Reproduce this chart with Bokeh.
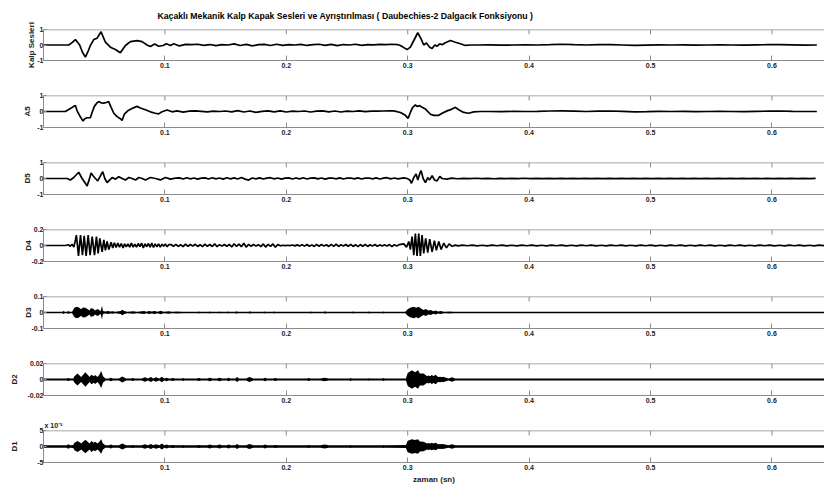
import numpy as np
from bokeh.plotting import figure
from bokeh.layouts import column
from bokeh.models import FixedTicker, Range1d, Span
from bokeh.embed import file_html
from bokeh.resources import INLINE

# ---------------- text ----------------
TITLE = "Kaçaklı Mekanik Kalp Kapak Sesleri ve Ayrıştırılması ( Daubechies-2 Dalgacık Fonksiyonu )"
XLABEL = "zaman (sn)"
SCALE_NOTE = "x 10⁻³"
YLABELS = ["Kalp Sesleri", "A5", "D5", "D4", "D3", "D2", "D1"]
XTICKS = [0.1, 0.2, 0.3, 0.4, 0.5, 0.6]
XTICK_LABELS = ["0.1", "0.2", "0.3", "0.4", "0.5", "0.6"]
YLIMS = [1.0, 1.0, 1.0, 0.2, 0.1, 0.02, 0.005]
YTICK_LABELS = [["-1", "0", "1"], ["-1", "0", "1"], ["-1", "0", "1"],
                ["-0.2", "0", "0.2"], ["-0.1", "0", "0.1"],
                ["-0.02", "0", "0.02"], ["-5", "0", "5"]]
X_END = 0.6433

# ---------------- data: original heart sound ----------------
sig_s1_t = [0.0, 0.010, 0.0208, 0.0235, 0.0263, 0.0298, 0.032, 0.0345, 0.0365, 0.0386, 0.0414,
            0.0441, 0.0474, 0.051, 0.0551, 0.0592, 0.0633, 0.0675, 0.0716, 0.0771, 0.0812,
            0.0853, 0.088, 0.0916, 0.0949, 0.0985, 0.1012, 0.1045, 0.1073]
sig_s1_v = [0.0, 0.0, 0.0, 0.15, 0.35, 0.0, -0.45, -0.78, -0.45, -0.03, 0.35,
            0.44, 0.85, 0.18, -0.14, -0.29, -0.5, -0.03, 0.22, 0.28, 0.22,
            0.0, -0.1, 0.06, -0.08, -0.03, 0.08, -0.03, 0.08]
sig_mid_t = np.linspace(0.112, 0.287, 36)
sig_mid_v = [-0.06, 0.04, 0.02, 0.05, -0.02, 0.03, -0.04, 0.02, 0.0, 0.07, -0.03, 0.04,
             -0.06, 0.02, 0.04, -0.03, 0.05, -0.02, 0.03, 0.0, 0.04, -0.03, 0.02, 0.05,
             -0.02, 0.04, -0.04, 0.03, 0.0, 0.05, -0.02, 0.03, 0.01, 0.04, 0.02, 0.05]
sig_s2_t = [0.2915, 0.294, 0.2995, 0.3022, 0.305, 0.3083, 0.311, 0.3132, 0.3154, 0.3181, 0.3201,
            0.3223, 0.3242, 0.3264, 0.3283, 0.331, 0.3352, 0.3393, 0.3434, 0.3475, 0.3517]
sig_s2_v = [0.03, -0.03, -0.3, -0.14, 0.29, 0.79, 0.4, 0.0, 0.13, -0.14, -0.23,
            0.0, -0.08, 0.08, 0.02, 0.15, 0.29, 0.18, 0.08, -0.03, 0.0]
sig_tail_t = np.linspace(0.357, 0.637, 29)
sig_tail_v = [0.0, 0.01, -0.01, 0.0, 0.01, 0.0, 0.02, 0.05, 0.02, 0.0, 0.02, 0.03, 0.0, -0.03,
              -0.01, 0.01, 0.0, 0.01, -0.01, 0.0, 0.01, 0.0, -0.01, 0.01, 0.02, 0.03, 0.01, -0.01, 0.0]

# ---------------- data: A5 ----------------
a5_s1_t = [0.0, 0.010, 0.018, 0.0222, 0.0249, 0.0263, 0.0277, 0.0299, 0.0326, 0.034, 0.0359,
           0.0386, 0.04, 0.0419, 0.0441, 0.0455, 0.0474, 0.0496, 0.0524, 0.0537, 0.0557,
           0.0579, 0.0606, 0.0633, 0.0647, 0.0666, 0.0694, 0.0729, 0.077, 0.0798, 0.0839,
           0.088, 0.0921, 0.0949, 0.0976, 0.1018, 0.1059, 0.11]
a5_s1_v = [0.0, 0.0, 0.0, 0.19, 0.32, 0.37, 0.04, -0.28, -0.6, -0.45, -0.39,
           -0.39, -0.06, 0.32, 0.54, 0.62, 0.54, 0.52, 0.58, 0.62, 0.26,
           -0.11, -0.32, -0.45, -0.56, -0.17, 0.04, 0.19, 0.32, 0.22, 0.11,
           -0.02, -0.11, -0.15, -0.02, 0.09, -0.02, 0.04]
a5_mid_t = np.linspace(0.115, 0.285, 35)
a5_mid_v = [-0.04, 0.02, 0.04, 0.01, -0.02, 0.02, 0.0, 0.03, -0.02, 0.05, -0.03, 0.03,
            -0.05, 0.01, 0.04, -0.02, 0.04, -0.03, 0.02, 0.0, 0.03, -0.03, 0.02, 0.04,
            -0.02, 0.03, -0.03, 0.02, 0.0, 0.04, -0.01, 0.02, 0.02, 0.03, 0.04]
a5_s2_t = [0.2885, 0.294, 0.2981, 0.3003, 0.3022, 0.3041, 0.3063, 0.3077, 0.3099, 0.3118,
           0.3146, 0.3187, 0.3214, 0.3256, 0.3283, 0.3324, 0.3365, 0.3393, 0.342, 0.3461,
           0.3502, 0.3544, 0.3599]
a5_s2_v = [0.04, -0.06, -0.24, -0.43, -0.06, 0.26, 0.41, 0.32, 0.37, 0.26,
           0.15, -0.17, -0.24, -0.24, -0.11, 0.04, 0.15, 0.26, 0.11, -0.06,
           -0.11, -0.02, 0.0]
a5_tail_t = np.linspace(0.367, 0.637, 28)
a5_tail_v = [0.0, -0.01, 0.01, 0.0, 0.01, 0.03, 0.04, 0.02, 0.0, 0.02, 0.03, 0.01, -0.02, -0.01,
             0.01, 0.0, 0.01, -0.01, 0.0, 0.01, 0.0, -0.01, 0.01, 0.02, 0.03, 0.01, 0.0, 0.0]

# ---------------- data: D5 ----------------
d5_s1_t = [0.0, 0.010, 0.0195, 0.0222, 0.0249, 0.029, 0.0318, 0.0345, 0.0359, 0.0378, 0.0392,
           0.0408, 0.0428, 0.0447, 0.0469, 0.0488, 0.0505, 0.0524, 0.0546, 0.0565, 0.0593,
           0.062, 0.0648, 0.0675, 0.0703, 0.073, 0.0758, 0.0785, 0.0813, 0.084, 0.0881,
           0.0922, 0.0963, 0.1004, 0.1046, 0.1087]
d5_s1_v = [0.0, 0.0, 0.0, -0.09, 0.06, 0.39, 0.0, -0.3, -0.47, -0.04, 0.34,
           0.17, 0.0, -0.15, 0.17, 0.43, 0.0, -0.26, -0.09, 0.06, -0.04,
           0.11, 0.0, -0.09, 0.06, 0.0, -0.09, 0.06, 0.0, -0.09, 0.06,
           0.0, -0.09, 0.06, -0.04, 0.02]
d5_mid_t = np.linspace(0.112, 0.292, 61)
d5_mid_v = [0.04, -0.03, 0.05, -0.02, 0.03, -0.04, 0.02, 0.04, -0.03, 0.05,
            -0.02, 0.03, -0.04, 0.05, -0.02, 0.04, -0.03, 0.06, -0.04, -0.1,
            0.03, -0.02, 0.04, -0.03, 0.02, 0.05, -0.02, 0.03, -0.04, 0.02,
            0.04, -0.03, 0.03, -0.02, 0.05, -0.03, 0.02, 0.04, -0.02, 0.03,
            -0.04, 0.02, 0.03, -0.02, 0.04, -0.03, 0.02, 0.03, -0.02, 0.04,
            -0.03, 0.02, 0.03, -0.02, 0.04, -0.03, 0.02, 0.05, -0.02, 0.03, -0.02]
d5_s2_t = [0.2968, 0.2995, 0.3017, 0.3031, 0.305, 0.3069, 0.3083, 0.3099, 0.311, 0.3127,
           0.3146, 0.3165, 0.3181, 0.3201, 0.322, 0.3242, 0.3264, 0.3283, 0.3324]
d5_s2_v = [0.04, 0.0, -0.09, -0.3, 0.06, 0.28, -0.09, 0.3, 0.49, 0.0,
           -0.26, 0.06, -0.09, 0.17, -0.09, -0.15, 0.13, 0.0, -0.04]
d5_tail_t = np.linspace(0.336, 0.636, 61)
d5_tail_v = [0.02, -0.015, 0.01, -0.01, 0.015, -0.01, 0.01, -0.015, 0.012, -0.01,
             0.01, -0.012, 0.015, -0.01, 0.01, -0.008, 0.012, -0.01, 0.01, -0.012,
             0.008, -0.01, 0.012, -0.008, 0.01, -0.01, 0.012, -0.01, 0.008, -0.01,
             0.01, -0.012, 0.01, -0.008, 0.012, -0.01, 0.01, -0.01, 0.008, -0.012,
             0.01, -0.008, 0.012, -0.01, 0.01, -0.012, 0.008, -0.01, 0.012, -0.008,
             0.01, -0.01, 0.012, -0.01, 0.008, -0.01, 0.01, -0.012, 0.01, -0.008, 0.01]

# ---------------- data: D4 ----------------
d4_s1_t = [0.0, 0.018, 0.0205, 0.022, 0.0235, 0.025, 0.0263, 0.0271, 0.0288, 0.0305, 0.0321,
           0.0335, 0.0351, 0.0368, 0.0384, 0.0401, 0.042, 0.0436, 0.045, 0.0464, 0.0483,
           0.0497, 0.051, 0.0524, 0.0538, 0.0557, 0.057, 0.0584, 0.0598, 0.0612, 0.0626,
           0.064, 0.0655, 0.0668, 0.0682, 0.0696, 0.071, 0.0724, 0.0738, 0.0752, 0.0766,
           0.078, 0.0794, 0.0808, 0.0822, 0.0836, 0.085, 0.0864, 0.0878, 0.0892, 0.0906,
           0.092, 0.0934, 0.0948, 0.0962, 0.0976, 0.099, 0.1004, 0.1018, 0.1032]
d4_s1_v = [0.0, 0.0, 0.01, -0.01, 0.015, -0.02, 0.07, 0.13, -0.13, 0.13, -0.12,
           0.12, -0.13, 0.13, -0.12, 0.11, -0.12, 0.11, -0.10, 0.09, -0.08,
           0.07, -0.06, 0.05, -0.05, 0.04, -0.03, 0.035, -0.025, 0.03, -0.02,
           0.025, -0.03, 0.02, -0.015, 0.02, -0.02, 0.03, -0.02, 0.015, -0.02,
           0.025, -0.015, 0.03, -0.03, 0.02, -0.015, 0.025, -0.02, 0.03, -0.025,
           0.02, -0.015, 0.02, -0.02, 0.015, -0.01, 0.02, -0.015, 0.01]
d4_mid_t = np.linspace(0.105, 0.293, 95)
d4_mid_v = [0.012, -0.01, 0.015, -0.012, 0.01, -0.015, 0.018, -0.01, 0.012, -0.008,
            0.015, -0.012, 0.01, -0.014, 0.016, -0.01, 0.012, -0.012, 0.02, -0.015,
            0.01, -0.008, 0.012, -0.01, 0.015, -0.018, 0.022, -0.012, 0.018, -0.015,
            0.028, -0.02, 0.015, -0.01, 0.012, -0.008, 0.01, -0.015, 0.02, -0.02,
            0.015, -0.01, 0.02, -0.022, 0.012, -0.004, 0.003, -0.002, 0.003, -0.002,
            0.006, -0.005, 0.008, -0.006, 0.01, -0.008, 0.012, -0.01, 0.008, -0.012,
            0.015, -0.01, 0.012, -0.008, 0.01, -0.012, 0.014, -0.01, 0.016, -0.012,
            0.01, -0.008, 0.012, -0.01, 0.014, -0.012, 0.01, -0.015, 0.012, -0.01,
            0.015, -0.012, 0.01, -0.008, 0.012, -0.01, 0.008, -0.006, 0.01, -0.008,
            0.012, -0.015, 0.01, -0.008, 0.012]
d4_s2_t = [0.2968, 0.299, 0.3009, 0.3022, 0.3036, 0.305, 0.3063, 0.3077, 0.3091, 0.3104,
           0.3118, 0.3132, 0.3148, 0.3165, 0.3181, 0.3201, 0.322, 0.3236, 0.3256, 0.3275,
           0.3297, 0.3319, 0.3341, 0.3365, 0.3393, 0.3415]
d4_s2_v = [0.02, -0.02, 0.05, -0.05, 0.11, -0.12, 0.15, -0.13, 0.15, -0.13,
           0.13, -0.1, 0.09, -0.09, 0.08, -0.08, 0.06, -0.06, 0.05, -0.05,
           0.03, -0.03, 0.02, -0.01, 0.005, -0.005]
d4_tail_t = np.linspace(0.345, 0.643, 74)
d4_tail_v = [0.004, -0.003, 0.005, -0.004, 0.003, -0.005, 0.004, -0.003, 0.005, -0.004,
             0.003, -0.004, 0.005, -0.003, 0.004, -0.005, 0.003, -0.004, 0.004, -0.003,
             0.005, -0.004, 0.003, -0.005, 0.004, -0.003, 0.005, -0.004, 0.003, -0.004,
             0.004, -0.003, 0.005, -0.004, 0.003, -0.005, 0.004, -0.003, 0.004, -0.004,
             0.003, -0.004, 0.005, -0.003, 0.004, -0.005, 0.003, -0.004, 0.004, -0.003,
             0.005, -0.004, 0.003, -0.005, 0.004, -0.003, 0.005, -0.004, 0.003, -0.004,
             0.004, -0.003, 0.005, -0.004, 0.003, -0.005, 0.004, -0.003, 0.004, -0.004,
             0.003, -0.004, 0.005, -0.003]

# ---------------- data: D3, D2, D1 (envelope of dense oscillation) ----------------
d3_t = [0.0, 0.0155, 0.0165, 0.0175, 0.0195, 0.0205, 0.0215, 0.0235, 0.0255, 0.0275, 0.0295,
        0.031, 0.0325, 0.0345, 0.0365, 0.0378, 0.039, 0.041, 0.0425, 0.044, 0.0455, 0.047,
        0.0482, 0.049, 0.051, 0.053, 0.055, 0.057, 0.059, 0.0635, 0.065, 0.0665, 0.069, 0.074,
        0.077, 0.083, 0.0845, 0.087, 0.089, 0.0915, 0.094, 0.0965, 0.099, 0.103, 0.106, 0.11,
        0.115, 0.127, 0.128, 0.129, 0.136, 0.137, 0.138, 0.144, 0.145, 0.146, 0.151, 0.152,
        0.153, 0.158, 0.159, 0.16, 0.169, 0.17, 0.171, 0.181, 0.182, 0.183, 0.189, 0.19, 0.191,
        0.219, 0.22, 0.221, 0.231, 0.232, 0.233, 0.254, 0.255, 0.256, 0.267, 0.268, 0.269,
        0.279, 0.28, 0.281, 0.298, 0.3, 0.302, 0.305, 0.307, 0.309, 0.311, 0.313, 0.315,
        0.317, 0.319, 0.321, 0.323, 0.325, 0.327, 0.33, 0.335, 0.338, 0.644]
d3_a = [0.0045, 0.0045, 0.009, 0.0045, 0.0045, 0.01, 0.0045, 0.005, 0.03, 0.036, 0.03,
        0.02, 0.032, 0.03, 0.02, 0.012, 0.026, 0.024, 0.012, 0.02, 0.018, 0.008,
        0.042, 0.01, 0.007, 0.009, 0.006, 0.008, 0.005, 0.01, 0.017, 0.01, 0.005, 0.008,
        0.005, 0.009, 0.005, 0.01, 0.006, 0.009, 0.005, 0.011, 0.005, 0.008, 0.005, 0.007,
        0.005, 0.0045, 0.007, 0.0045, 0.0045, 0.007, 0.0045, 0.0045, 0.007, 0.0045, 0.0045, 0.007,
        0.0045, 0.0045, 0.008, 0.0045, 0.0045, 0.008, 0.0045, 0.0045, 0.007, 0.0045, 0.0045, 0.007,
        0.0045, 0.0045, 0.007, 0.0045, 0.0045, 0.008, 0.0045, 0.0045, 0.007, 0.0045, 0.0045, 0.006,
        0.0045, 0.0045, 0.007, 0.0045, 0.005, 0.02, 0.03, 0.036, 0.03, 0.036, 0.025, 0.015, 0.022,
        0.012, 0.016, 0.008, 0.012, 0.007, 0.009, 0.005, 0.007, 0.0045, 0.0045]

d2_t = [0.0, 0.019, 0.0205, 0.022, 0.0245, 0.0255, 0.028, 0.0303, 0.031, 0.0345, 0.038,
        0.0395, 0.0415, 0.0425, 0.0445, 0.046, 0.0475, 0.049, 0.051, 0.054, 0.0555, 0.057,
        0.062, 0.065, 0.068, 0.072, 0.0735, 0.075, 0.081, 0.0835, 0.086, 0.0885, 0.0905,
        0.0925, 0.0955, 0.0975, 0.0995, 0.1015, 0.103, 0.1045, 0.1065, 0.1085, 0.11, 0.114,
        0.115, 0.116, 0.126, 0.128, 0.13, 0.135, 0.137, 0.139, 0.143, 0.145, 0.147, 0.151,
        0.1525, 0.154, 0.158, 0.1595, 0.161, 0.167, 0.1695, 0.173, 0.181, 0.1825, 0.184,
        0.189, 0.191, 0.193, 0.217, 0.2185, 0.22, 0.228, 0.2315, 0.235, 0.252, 0.253, 0.254,
        0.267, 0.268, 0.269, 0.279, 0.28, 0.281, 0.2985, 0.3, 0.3035, 0.306, 0.3085, 0.31,
        0.313, 0.316, 0.317, 0.3185, 0.32, 0.321, 0.323, 0.325, 0.327, 0.328, 0.329, 0.3335,
        0.3365, 0.339, 0.644]
d2_a = [0.0013, 0.0013, 0.002, 0.0013, 0.0014, 0.004, 0.0075, 0.004, 0.003, 0.009, 0.003,
        0.006, 0.004, 0.0055, 0.003, 0.006, 0.0105, 0.004, 0.0013, 0.0013, 0.0022, 0.0013,
        0.0013, 0.0037, 0.0013, 0.0013, 0.002, 0.0013, 0.0013, 0.0027, 0.0013, 0.003, 0.0013,
        0.0027, 0.0013, 0.0033, 0.0013, 0.0022, 0.0013, 0.0013, 0.002, 0.0013, 0.0013, 0.0013,
        0.002, 0.0013, 0.0013, 0.002, 0.0013, 0.0013, 0.0022, 0.0013, 0.0013, 0.0022, 0.0013, 0.0013,
        0.0022, 0.0013, 0.0013, 0.003, 0.0013, 0.0013, 0.003, 0.0013, 0.0013, 0.0022, 0.0013,
        0.0013, 0.002, 0.0013, 0.0013, 0.002, 0.0013, 0.0013, 0.0022, 0.0013, 0.0013, 0.002, 0.0013,
        0.0013, 0.0017, 0.0013, 0.0013, 0.002, 0.0013, 0.0014, 0.008, 0.0117, 0.009, 0.0117, 0.0075,
        0.0075, 0.004, 0.005, 0.004, 0.0058, 0.004, 0.0058, 0.003, 0.0033, 0.0027, 0.0033, 0.0013,
        0.0027, 0.0013, 0.0013]

d1_t = list(d2_t)
d1_a = [0.0004, 0.0004, 0.0007, 0.0004, 0.0005, 0.0012, 0.0017, 0.0012, 0.0009, 0.0021, 0.0009,
        0.0017, 0.0012, 0.0015, 0.0009, 0.0015, 0.0023, 0.0009, 0.0004, 0.0004, 0.0006, 0.0004,
        0.0004, 0.0009, 0.0004, 0.0004, 0.0005, 0.0004, 0.0004, 0.0007, 0.0004, 0.0008, 0.0004,
        0.0007, 0.0004, 0.0009, 0.0004, 0.0006, 0.0004, 0.0004, 0.0005, 0.0004, 0.0004, 0.0004,
        0.0005, 0.0004, 0.0004, 0.0005, 0.0004, 0.0004, 0.0006, 0.0004, 0.0004, 0.0006, 0.0004, 0.0004,
        0.0006, 0.0004, 0.0004, 0.0008, 0.0004, 0.0004, 0.0008, 0.0004, 0.0004, 0.0006, 0.0004,
        0.0004, 0.0005, 0.0004, 0.0004, 0.0005, 0.0004, 0.0004, 0.0006, 0.0004, 0.0004, 0.0005, 0.0004,
        0.0004, 0.0004, 0.0004, 0.0004, 0.0005, 0.0004, 0.0005, 0.0018, 0.0023, 0.002, 0.0023, 0.0016,
        0.0015, 0.0009, 0.0011, 0.0009, 0.0012, 0.0009, 0.0012, 0.0007, 0.0008, 0.0007, 0.0008, 0.0004,
        0.0007, 0.0004, 0.0004]

# ---------------- assemble ----------------
line_series = [
    (np.concatenate([sig_s1_t, sig_mid_t, sig_s2_t, sig_tail_t]),
     np.concatenate([sig_s1_v, sig_mid_v, sig_s2_v, sig_tail_v])),
    (np.concatenate([a5_s1_t, a5_mid_t, a5_s2_t, a5_tail_t]),
     np.concatenate([a5_s1_v, a5_mid_v, a5_s2_v, a5_tail_v])),
    (np.concatenate([d5_s1_t, d5_mid_t, d5_s2_t, d5_tail_t]),
     np.concatenate([d5_s1_v, d5_mid_v, d5_s2_v, d5_tail_v])),
    (np.concatenate([d4_s1_t, d4_mid_t, d4_s2_t, d4_tail_t]),
     np.concatenate([d4_s1_v, d4_mid_v, d4_s2_v, d4_tail_v])),
]
env_series = [(np.array(d3_t), np.array(d3_a)),
              (np.array(d2_t), np.array(d2_a)),
              (np.array(d1_t), np.array(d1_a))]

W = 824
FONT = "Liberation Sans"
GRAY = "#8c8c8c"
TXT = "#222222"
# per-panel distance of the y-axis title from the tick labels (MATLAB-like placement)
YLABEL_STANDOFF = [-2, 2, 2, -5, -5, 6, 15]


def make_panel(i, height, top, bottom):
    ylim = YLIMS[i]
    p = figure(width=W, height=height, x_range=Range1d(0, X_END), y_range=Range1d(-ylim, ylim),
               output_backend="svg", toolbar_location=None,
               min_border_left=43, min_border_right=0, min_border_top=top,
               min_border_bottom=bottom)
    p.outline_line_color = None
    p.grid.visible = False
    p.background_fill_color = "white"
    p.border_fill_color = "white"

    xa = p.xaxis[0]
    xa.ticker = FixedTicker(ticks=XTICKS)
    xa.major_label_overrides = {t: s for t, s in zip(XTICKS, XTICK_LABELS)}
    xa.major_tick_in = 5
    xa.major_tick_out = 0
    xa.minor_tick_line_color = None
    xa.axis_line_color = GRAY
    xa.major_tick_line_color = GRAY
    xa.major_label_text_font = FONT
    xa.major_label_text_font_size = "7px"
    xa.major_label_text_font_style = "bold"
    xa.major_label_text_color = TXT
    xa.major_label_standoff = 2

    # top frame edge and inward tick marks (MATLAB box style)
    p.add_layout(Span(location=ylim, dimension="width", line_color=GRAY, line_width=1.5))
    tick_len = 5 * 2 * ylim / 32
    p.segment(x0=XTICKS, y0=[ylim] * len(XTICKS), x1=XTICKS,
              y1=[ylim - tick_len] * len(XTICKS), line_color=GRAY, line_width=1)

    ya = p.yaxis[0]
    ya.ticker = FixedTicker(ticks=[-ylim, 0, ylim])
    ya.major_label_overrides = {-ylim: YTICK_LABELS[i][0], 0: YTICK_LABELS[i][1],
                                ylim: YTICK_LABELS[i][2]}
    ya.major_tick_in = 3
    ya.major_tick_out = 0
    ya.minor_tick_line_color = None
    ya.axis_line_color = GRAY
    ya.major_tick_line_color = GRAY
    ya.major_label_text_font = FONT
    ya.major_label_text_font_size = "7px"
    ya.major_label_text_font_style = "bold"
    ya.major_label_text_color = TXT
    ya.major_label_standoff = 0
    ya.axis_label = YLABELS[i]
    ya.axis_label_text_font = FONT
    ya.axis_label_text_font_size = "8px"
    ya.axis_label_text_font_style = "bold"
    ya.axis_label_text_color = TXT
    ya.axis_label_standoff = YLABEL_STANDOFF[i]
    return p, xa


panels = []
bottom_axes = []
for i in range(7):
    if i == 0:
        p, xa = make_panel(i, 75, 28, 15)
    elif i == 6:
        p, xa = make_panel(i, 80, 20, 28)
    else:
        p, xa = make_panel(i, 67, 20, 15)
    if i < 4:
        t, v = line_series[i]
        p.line(t, v, line_color="black", line_width=1.7)
    else:
        t, a = env_series[i - 4]
        p.varea(x=t, y1=-a, y2=a, fill_color="black")
    panels.append(p)
    bottom_axes.append(xa)

p0 = panels[0]
p0.title.text = TITLE
p0.title.text_font = FONT
p0.title.text_font_size = "8.7px"
p0.title.text_font_style = "bold"
p0.title.text_color = "black"
p0.title.align = "left"
p0.title.vertical_align = "bottom"
p0.title.offset = 114
p0.title.standoff = 17

p6 = panels[6]
xa6 = bottom_axes[6]
xa6.axis_label = XLABEL
xa6.axis_label_text_font = FONT
xa6.axis_label_text_font_size = "8px"
xa6.axis_label_text_font_style = "bold"
xa6.axis_label_text_color = TXT
xa6.axis_label_standoff = 2
p6.title.text = SCALE_NOTE
p6.title.text_font = FONT
p6.title.text_font_size = "7px"
p6.title.text_font_style = "bold"
p6.title.text_color = TXT
p6.title.align = "left"
p6.title.offset = 1
p6.title.standoff = 4

layout = column(*panels, spacing=0)
open("out.html", "w").write(file_html(layout, INLINE))
